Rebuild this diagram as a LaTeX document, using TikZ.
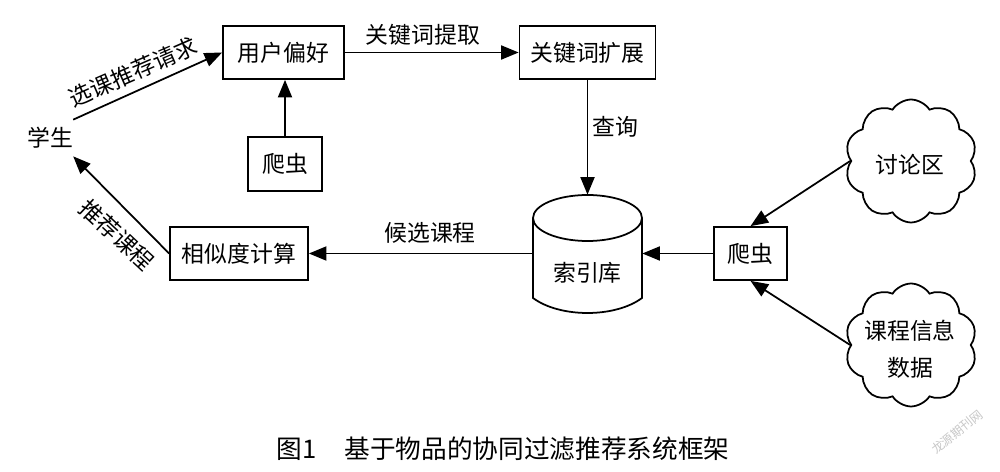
\documentclass[tikz,border=0pt]{standalone}
\usepackage{fontspec}
\newfontfamily\cjk{Noto Sans CJK SC}
\usetikzlibrary{arrows.meta,shapes.symbols,calc}
\begin{document}
\begin{tikzpicture}[x=0.02cm,y=-0.02cm,
  every node/.style={font=\cjk\fontsize{13pt}{21pt}\selectfont, inner sep=0pt},
  box/.style={draw, line width=1pt, minimum height=1.06cm},
  arr/.style={line width=1pt, -{Triangle[length=10pt,width=8pt]}},
  puff/.style={draw, line width=1pt, shape=cloud, cloud puffs=10, cloud puff arc=115, cloud ignores aspect, minimum width=2.64cm, minimum height=2.46cm, align=center},
  lbl/.style={}
]
\useasboundingbox (0,0) rectangle (1000,472);

% nodes
\node[minimum width=0.8cm, minimum height=0.72cm] (stu) at (50,138) {学生};
\node[box, minimum width=2.42cm] (pref) at (283.5,52.5) {用户偏好};
\node[box, minimum width=1.48cm, minimum height=1.08cm] (c1) at (285,164) {爬虫};
\node[box, minimum width=2.72cm] (ext) at (587.5,52.5) {关键词扩展};
\node[box, minimum width=2.76cm] (sim) at (239,253.5) {相似度计算};
\node[box, minimum width=1.46cm] (c2) at (750.5,253.5) {爬虫};
\node[minimum width=2.18cm, minimum height=2.34cm] (db) at (587.5,253.5) {};
\node (dbl) at (587.5,273) {索引库};
\node[puff] (cl1) at (911,161) {};
\node (cl1t) at (910,165) {讨论区};
\node[puff] (cl2) at (911,345) {};
\node[align=center] (cl2t) at (910,349) {课程信息\\数据};

% cylinder
\draw[line width=1pt] (587.5,218) ellipse [x radius=1.09cm, y radius=0.46cm];
\draw[line width=1pt] (533,218) -- (533,298) .. controls (560,318) and (615,318) .. (642,298) -- (642,218);

% connectors
\draw[arr] (stu.north east) -- (pref.west);
\draw[arr] (c1.north) -- (c1.north |- pref.south);
\draw[arr] (pref.east) -- (ext.west);
\draw[arr] (ext.south) -- (db.north);
\draw[arr] (db.west) -- (sim.east);
\draw[arr] (c2.west) -- (db.east);
\draw[arr] (sim.west) -- (stu.south east);
\draw[arr] (cl1.west) -- (c2.north);
\draw[arr] (cl2.west) -- (c2.south);

% labels
\node[rotate=23.5] (l1) at (133,72) {选课推荐请求};
\node (l2) at (423,35) {关键词提取};
\node (l3) at (615,127) {查询};
\node (l4) at (430,233) {候选课程};
\node[rotate=-43] (l5) at (117,235) {推荐课程};

% caption
\node[font=\cjk\fontsize{14.6pt}{18pt}\selectfont] (cap) at (503,449) {图1\hspace{1.1em}基于物品的协同过滤推荐系统框架};
\node[font=\cjk\fontsize{7pt}{8pt}\selectfont, text=black!22, rotate=39] (wm) at (957,432) {龙源期刊网};
\end{tikzpicture}
\end{document}
